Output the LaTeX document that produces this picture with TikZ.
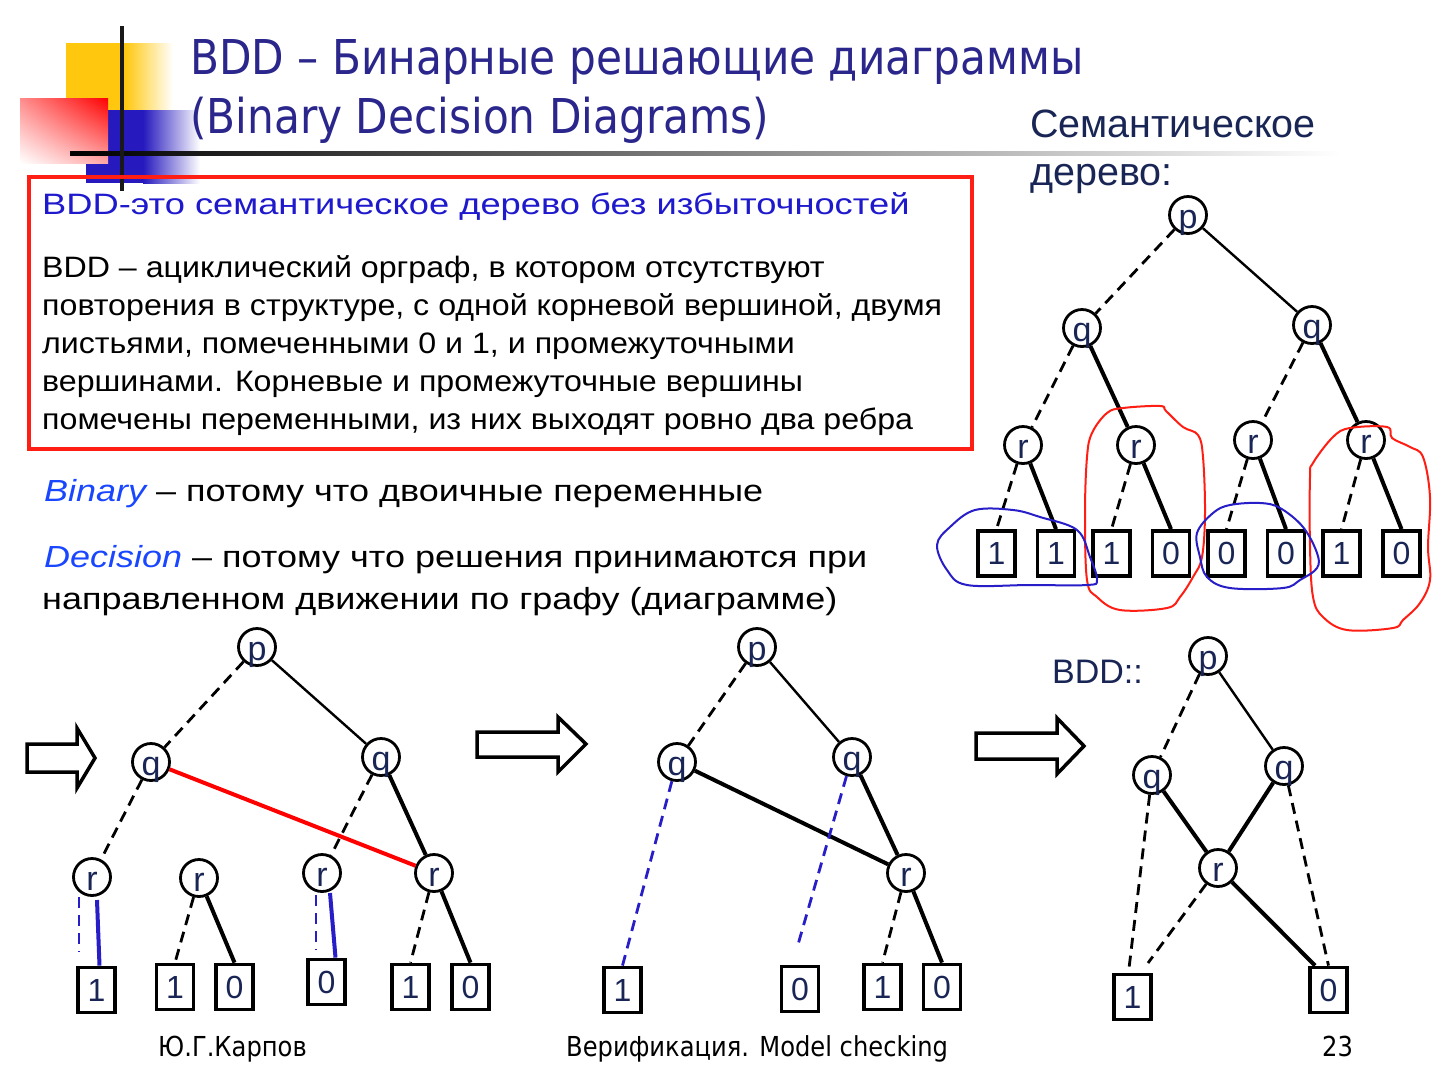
\documentclass[tikz,border=0pt]{standalone}
\usepackage{fontspec}
\usetikzlibrary{shadings}
\setmainfont{Liberation Sans}
\newfontfamily\tahoma[FakeStretch=0.88]{DejaVu Sans}
\newfontfamily\bodyA[FakeStretch=1.09]{Liberation Sans}
\newfontfamily\bodyB[FakeStretch=1.18]{Liberation Sans}
\newfontfamily\bodyH[FakeStretch=1.23]{Liberation Sans}
\definecolor{titleblue}{RGB}{42,38,140}
\definecolor{headblue}{RGB}{30,25,205}
\definecolor{itblue}{RGB}{25,70,255}
\definecolor{navy}{RGB}{25,38,85}
\definecolor{lblue}{RGB}{40,30,200}
\definecolor{logoyellow}{RGB}{255,200,15}
\definecolor{logoblue}{RGB}{38,25,190}
\definecolor{boxred}{RGB}{255,30,20}
\newcommand\vtx[3]{\node[vnode] (#1) at (#2) {}; \node[vlab] (#1l) at ([yshift=-13pt]#1.center) {#3};}
\begin{document}
\begin{tikzpicture}[x=1pt,y=-1pt,
 vnode/.style={circle, draw=black, line width=2.8pt, minimum size=37pt, inner sep=0pt},
 vlab/.style={anchor=base, inner sep=0pt, text=navy, font=\fontsize{34}{34}\selectfont},
 leaf/.style={rectangle, draw=black, line width=3.8pt, minimum width=37pt, minimum height=45pt, inner sep=0pt, text=navy, font=\fontsize{32}{32}\selectfont},
 sedge/.style={line width=2.4pt},
 tedge/.style={line width=4pt},
 dedge/.style={line width=2.8pt, dash pattern=on 11pt off 7pt},
 bdedge/.style={dedge, draw=lblue},
 btedge/.style={tedge, draw=lblue},
 txt/.style={anchor=base west, inner sep=0pt},
 loopred/.style={draw=boxred, line width=2pt},
 loopblue/.style={draw=lblue, line width=2pt},
 blockarrow/.style={draw=black, fill=white, line width=3.5pt, line join=miter}
]
\useasboundingbox (0,0) rectangle (1440,1080);
\fill[white] (0,0) rectangle (1440,1080);

% logo
\fill[logoyellow] (66,43) rectangle (125,110);
\shade[left color=logoyellow, right color=white] (125,43) rectangle (173,110);
\fill[logoblue] (86,110) rectangle (143,183);
\shade[left color=logoblue, right color=white] (143,110) rectangle (200,183);
\shade[upper right=red, upper left=red!45!white, lower right=red!35!white, lower left=white] (20,98) rectangle (108,163);
\shade[left color=black, right color=white] (70,151) rectangle (1340,155);
\fill[black!90] (120,26) rectangle (124,191);

% title
\node[txt, font=\tahoma\fontsize{48}{48}\selectfont, text=titleblue] (ttl1) at (190,74) {BDD – Бинарные решающие диаграммы};
\node[txt, font=\tahoma\fontsize{48}{48}\selectfont, text=titleblue] (ttl2) at (190,133) {(Binary Decision Diagrams)};

% red box
\node[draw=boxred, line width=3.5pt, minimum width=943pt, minimum height=272pt, anchor=north west, inner sep=0pt] (box) at (27,175) {};
\node[txt, font=\bodyH\fontsize{29.5}{29.5}\selectfont, text=headblue] (hd) at (42,214) {BDD-это семантическое дерево без избыточностей};
\node[txt, font=\bodyA\fontsize{29.5}{29.5}\selectfont] (b1) at (42,277) {BDD – ациклический орграф, в котором отсутствуют};
\node[txt, font=\bodyA\fontsize{29.5}{29.5}\selectfont] (b2) at (42,315) {повторения в структуре, с одной корневой вершиной, двумя};
\node[txt, font=\bodyA\fontsize{29.5}{29.5}\selectfont] (b3) at (42,353) {листьями, помеченными 0 и 1, и промежуточными};
\node[txt, font=\bodyA\fontsize{29.5}{29.5}\selectfont] (b4) at (42,391) {вершинами. Корневые и промежуточные вершины};
\node[txt, font=\bodyA\fontsize{29.5}{29.5}\selectfont] (b5) at (42,429) {помечены переменными, из них выходят ровно два ребра};

\node[txt, font=\bodyB\fontsize{30.5}{30.5}\selectfont] (bin) at (44,501) {\textcolor{itblue}{\itshape Binary} – потому что двоичные переменные};
\node[txt, font=\bodyB\fontsize{30.5}{30.5}\selectfont] (dec) at (44,567) {\textcolor{itblue}{\itshape Decision} – потому что решения принимаются при};
\node[txt, font=\bodyB\fontsize{30.5}{30.5}\selectfont] (dec2) at (42,609) {направленном движении по графу (диаграмме)};

\node[txt, font=\fontsize{39.5}{39.5}\selectfont, text=navy] (sem1) at (1030,137) {Семантическое};
\node[txt, font=\fontsize{39.5}{39.5}\selectfont, text=navy] (sem2) at (1030,185) {дерево:};
\node[txt, font=\fontsize{34}{34}\selectfont, text=navy] (bddl) at (1052,683) {BDD::};

% footer
\node[txt, font=\tahoma\fontsize{27.5}{27.5}\selectfont] (f1) at (158,1056) {Ю.Г.Карпов};
\node[txt, font=\tahoma\fontsize{27.5}{27.5}\selectfont] (f2) at (566,1056) {Верификация. Model checking};
\node[txt, font=\tahoma\fontsize{27.5}{27.5}\selectfont] (f3) at (1322,1056) {23};

% ===== semantic tree =====
\vtx{tp}{1188,215}{p}
\vtx{tqa}{1082,328}{q}
\vtx{tqb}{1312,325}{q}
\vtx{tra}{1023,445}{r}
\vtx{trb}{1136,445}{r}
\vtx{trc}{1253,440}{r}
\vtx{trd}{1366,440}{r}
\node[leaf] (tl1) at (996.5,553.5) {1};
\node[leaf] (tl2) at (1056,553.5) {1};
\node[leaf] (tl3) at (1111.5,553.5) {1};
\node[leaf] (tl4) at (1171,553.5) {0};
\node[leaf] (tl5) at (1226.5,553.5) {0};
\node[leaf] (tl6) at (1286,553.5) {0};
\node[leaf] (tl7) at (1341.5,553.5) {1};
\node[leaf] (tl8) at (1401.5,553.5) {0};
\draw[dedge] (tp) -- (tqa);
\draw[sedge] (tp) -- (tqb);
\draw[dedge] (tqa) -- (tra);
\draw[tedge] (tqa) -- (trb);
\draw[dedge] (tqb) -- (trc);
\draw[tedge] (tqb) -- (trd);
\draw[dedge] (tra) -- (tl1.north);
\draw[tedge] (tra) -- (tl2.north);
\draw[dedge] (trb) -- (tl3.north);
\draw[tedge] (trb) -- (tl4.north);
\draw[dedge] (trc) -- (tl5.north);
\draw[tedge] (trc) -- (tl6.north);
\draw[dedge] (trd) -- (tl7.north);
\draw[tedge] (trd) -- (tl8.north);
% hand drawn loops
\draw[loopred] plot[smooth cycle, tension=0.6] coordinates {(1087,457) (1092,433) (1107,413) (1123,408) (1160,406) (1166,411) (1183,427) (1198,435) (1203,457) (1205,513) (1202,557) (1193,577) (1180,597) (1167,608) (1120,610) (1097,597) (1087,580) (1085,513)};
\draw[loopred] plot[smooth cycle, tension=0.6] coordinates {(1310,477) (1313,463) (1333,437) (1350,428) (1387,427) (1392,438) (1410,447) (1423,457) (1430,497) (1428,547) (1430,580) (1420,603) (1403,620) (1393,628) (1347,630) (1323,617) (1313,597) (1310,547)};
\draw[loopblue] plot[smooth cycle, tension=0.6] coordinates {(937,545) (950,527) (975,510) (1013,510) (1040,517) (1077,530) (1090,557) (1097,580) (1087,585) (1030,585) (967,585) (947,570)};
\draw[loopblue] plot[smooth cycle, tension=0.6] coordinates {(1197,533) (1213,513) (1230,505) (1260,503) (1280,508) (1303,527) (1317,553) (1317,568) (1300,580) (1283,588) (1230,588) (1207,577) (1200,557)};

% ===== block arrows =====
\draw[blockarrow] (27,744) -- (77,744) -- (77,728) -- (95,758) -- (77,788) -- (77,772) -- (27,772) -- cycle;
\draw[blockarrow] (477,732) -- (558,732) -- (558,717) -- (586,744) -- (558,772) -- (558,757) -- (477,757) -- cycle;
\draw[blockarrow] (976,733) -- (1057,733) -- (1057,718) -- (1084,746) -- (1057,774) -- (1057,759) -- (976,759) -- cycle;

% ===== tree 1 (bottom left) =====
\vtx{ap}{257,647}{p}
\vtx{aqa}{151,762}{q}
\vtx{aqb}{381,757}{q}
\vtx{ara}{92,877}{r}
\vtx{arb}{199,878}{r}
\vtx{arc}{322,873}{r}
\vtx{ard}{434,873}{r}
\node[leaf] (al1) at (96.5,990) {1};
\node[leaf] (al2) at (175,987) {1};
\node[leaf] (al3) at (234.5,987) {0};
\node[leaf] (al4) at (326.5,982) {0};
\node[leaf] (al5) at (410.5,987) {1};
\node[leaf] (al6) at (470.5,987) {0};
\draw[dedge] (ap) -- (aqa);
\draw[sedge] (ap) -- (aqb);
\draw[dedge] (aqa) -- (ara);
\draw[dedge] (aqb) -- (arc);
\draw[tedge] (aqb) -- (ard);
\draw[tedge, draw=red] (aqa) -- (ard);
\draw[dedge] (arb) -- (al2.north);
\draw[tedge] (arb) -- (al3.north);
\draw[dedge] (ard) -- (al5.north);
\draw[tedge] (ard) -- (al6.north);
\coordinate (ab1) at (79,897);
\coordinate (ab2) at (79,952);
\coordinate (ab3) at (97,900);
\draw[bdedge] (ab1) -- (ab2);
\draw[btedge] (ab3) -- ([xshift=3pt]al1.north);
\coordinate (ab4) at (316,895);
\coordinate (ab5) at (316,950);
\coordinate (ab6) at (330,893);
\draw[bdedge] (ab4) -- (ab5);
\draw[btedge] (ab6) -- ([xshift=9pt]al4.north);

% ===== tree 2 (bottom middle) =====
\vtx{bp}{757,647}{p}
\vtx{bqa}{677,762}{q}
\vtx{bqb}{852,757}{q}
\vtx{br}{906,873}{r}
\node[leaf] (bl1) at (622.5,990) {1};
\node[leaf] (bl2) at (800,989) {0};
\node[leaf] (bl3) at (882.5,987) {1};
\node[leaf] (bl4) at (942,987) {0};
\draw[dedge] (bp) -- (bqa);
\draw[sedge] (bp) -- (bqb);
\draw[tedge] (bqa) -- (br);
\draw[tedge] (bqb) -- (br);
\draw[bdedge] (bqa) -- (bl1.north);
\coordinate (bb1) at (797,948);
\draw[bdedge] (bqb) -- (bb1);
\draw[dedge] (br) -- (bl3.north);
\draw[tedge] (br) -- (bl4.north);

% ===== BDD (bottom right) =====
\vtx{cp}{1208,656}{p}
\vtx{cqa}{1152,775}{q}
\vtx{cqb}{1284,766}{q}
\vtx{cr}{1218,868}{r}
\node[leaf] (cl1) at (1132.5,997) {1};
\node[leaf] (cl0) at (1328.5,990) {0};
\draw[dedge] (cp) -- (cqa);
\draw[sedge] (cp) -- (cqb);
\draw[tedge] (cqa) -- (cr);
\draw[tedge] (cqb) -- (cr);
\draw[dedge] (cqa) -- ([xshift=-4pt]cl1.north);
\coordinate (cc1) at (1148,963);
\draw[dedge] (cr) -- (cc1);
\draw[tedge] (cr) -- ([xshift=7pt]cl0.north west);
\draw[dedge] (cqb) -- (cl0.north);
\end{tikzpicture}
\end{document}
